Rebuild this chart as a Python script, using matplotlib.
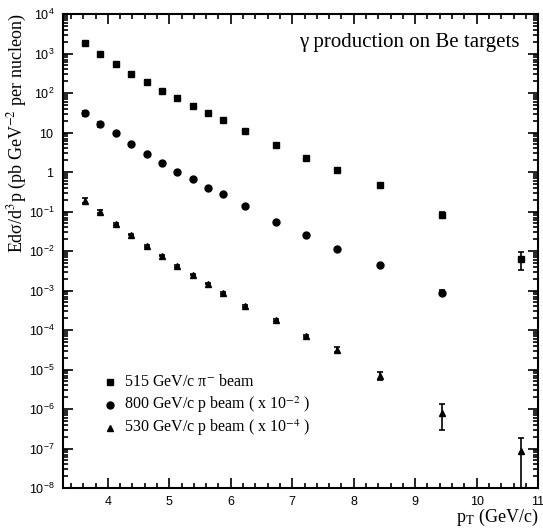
import numpy as np
import matplotlib.pyplot as plt
from matplotlib.ticker import FixedLocator, NullFormatter

plt.rcParams['mathtext.fontset'] = 'custom'
plt.rcParams['mathtext.rm'] = 'Liberation Sans'
plt.rcParams['mathtext.it'] = 'Liberation Sans:italic'

# Data
pt = [3.63, 3.88, 4.13, 4.38, 4.63, 4.88, 5.13, 5.38, 5.63, 5.88, 6.23, 6.73,
      7.23, 7.73, 8.43, 9.43, 10.72]

# 515 GeV/c pi- beam
pim_val = [1850, 950, 540, 310, 185, 115, 74, 46, 32, 21, 11, 4.9,
           2.2, 1.15, 0.46, 0.083, 0.0062]
pim_lo = [200, 50, 25, 12, 7, 4, 2.5, 1.6, 1.1, 0.8, 0.4, 0.2,
          0.1, 0.06, 0.025, 0.013, 0.0028]
pim_hi = [200, 50, 25, 12, 7, 4, 2.5, 1.6, 1.1, 0.8, 0.4, 0.2,
          0.1, 0.06, 0.025, 0.015, 0.0030]

# 800 GeV/c p beam (x 1e-2)
p800_val = [31, 16, 9.8, 5.1, 2.9, 1.7, 1.03, 0.65, 0.39, 0.28, 0.135, 0.055,
            0.026, 0.0115, 0.0044, 0.00088]
p800_lo = [5, 2.2, 0.7, 0.25, 0.12, 0.07, 0.04, 0.025, 0.015, 0.011, 0.006, 0.0025,
           0.0012, 0.0006, 0.00025, 0.00013]
p800_hi = [5, 2.2, 0.7, 0.25, 0.12, 0.07, 0.04, 0.025, 0.015, 0.011, 0.006, 0.0025,
           0.0012, 0.0006, 0.00025, 0.00015]

# 530 GeV/c p beam (x 1e-4)
p530_val = [0.19, 0.10, 0.049, 0.026, 0.0135, 0.0076, 0.0042, 0.0025, 0.0015,
            0.00087, 0.00041, 0.00018, 7.0e-5, 3.2e-5, 6.9e-6, 7.8e-7, 8.7e-8]
p530_lo = [0.03, 0.009, 0.0025, 0.0011, 0.0006, 0.0003, 0.00017, 0.0001, 6e-5,
           3.5e-5, 1.8e-5, 1e-5, 5e-6, 4.5e-6, 1.5e-6, 4.9e-7, 8.69e-8]
p530_hi = [0.03, 0.009, 0.0025, 0.0011, 0.0006, 0.0003, 0.00017, 0.0001, 6e-5,
           3.5e-5, 1.8e-5, 1e-5, 5e-6, 4.5e-6, 1.5e-6, 5.7e-7, 9.5e-8]

legend_labels = ['515 GeV/c π$^{-}$ beam',
                 '800 GeV/c p beam ( x 10$^{-2}$ )',
                 '530 GeV/c p beam ( x 10$^{-4}$ )']
markers = ['s', 'o', '^']

fig = plt.figure(figsize=(5.43, 5.29), dpi=100)
ax = fig.add_axes([0.116, 0.0775, 0.875, 0.896])

kw = dict(ls='none', color='black', ecolor='black', elinewidth=1.2,
          capsize=2, capthick=1.2, ms=5)
ax.errorbar(pt, pim_val, yerr=[pim_lo, pim_hi], marker='s', **kw)
ax.errorbar(pt[:len(p800_val)], p800_val, yerr=[p800_lo, p800_hi], marker='o', **kw)
ax.errorbar(pt, p530_val, yerr=[p530_lo, p530_hi], marker='^', **kw)

ax.set_yscale('log')
ax.set_xlim(3.27, 11)
ax.set_ylim(1e-8, 1e4)

# y ticks ROOT style
ydec = list(range(-8, 5))
ylabels = []
for e in ydec:
    if e == 0:
        ylabels.append(r'$1\;\;\,$')
    elif e == 1:
        ylabels.append(r'$10\;\;$')
    else:
        ylabels.append(r'$10^{%d}$' % e)
ax.yaxis.set_major_locator(FixedLocator([10.0 ** e for e in ydec]))
ax.set_yticklabels(ylabels)
minors = [m * 10.0 ** e for e in range(-8, 4) for m in range(2, 10)]
ax.yaxis.set_minor_locator(FixedLocator(minors))
ax.yaxis.set_minor_formatter(NullFormatter())

ax.set_xticks([4, 5, 6, 7, 8, 9, 10, 11])
ax.set_xticklabels(['4', '5', '6', '7', '8', '9', '10', '11'])
ax.set_xticks(np.arange(3.4, 11.0, 0.2), minor=True)

ax.tick_params(which='both', direction='in', top=True, right=True, width=1.2)
ax.tick_params(which='major', length=7, labelsize=9, pad=6)
ax.tick_params(which='minor', length=3.5)
for lab in ax.get_xticklabels() + ax.get_yticklabels():
    lab.set_fontfamily('Liberation Sans')
for s in ax.spines.values():
    s.set_linewidth(1.5)

serif = 'Liberation Serif'
ax.set_ylabel('Edσ/d$^{3}$p (pb GeV$^{-2}$ per nucleon)',
              fontfamily=serif, fontsize=13, loc='top',
              math_fontfamily='stix')
ax.yaxis.set_label_coords(-0.072, 1.0)
ax.set_xlabel(r'p$_{\mathrm{T}}$ (GeV/c)', fontfamily=serif, fontsize=13,
              loc='right', labelpad=-1, math_fontfamily='stix')

ax.text(0.96, 0.939, 'γ production on Be targets', transform=ax.transAxes,
        ha='right', va='center', fontfamily=serif, fontsize=15)

# legend drawn as marker + text rows
row_y = [0.224, 0.175, 0.127]
for m, lab, y in zip(markers, legend_labels, row_y):
    ax.plot([0.099], [y], ls='none', marker=m, color='black', ms=5,
            transform=ax.transAxes, clip_on=False)
    ax.text(0.128, y, lab, transform=ax.transAxes, ha='left', va='center',
            fontfamily=serif, fontsize=11.5, math_fontfamily='stix')

fig.savefig('out.png', dpi=100)
